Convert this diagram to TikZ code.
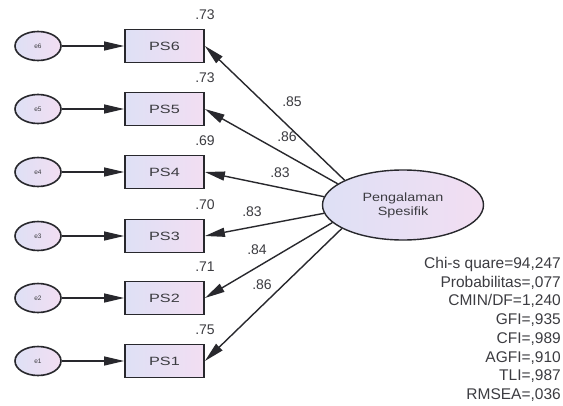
\documentclass[tikz,border=0pt]{standalone}
\usepackage{fontspec}
\setmainfont{Liberation Sans}
\usepackage{graphicx}
\usetikzlibrary{arrows.meta,shapes.geometric}
\definecolor{ink}{RGB}{40,40,45}
\definecolor{txt}{RGB}{60,60,65}
\definecolor{fillL}{RGB}{222,224,245}
\definecolor{fillR}{RGB}{242,222,242}
\newcommand\widetxt[1]{\scalebox{1.35}[1]{#1}}

\begin{document}
\begin{tikzpicture}[x=1pt,y=-1pt,
  obs/.style={draw=ink, line width=1.8pt, left color=fillL, right color=fillR,
    minimum width=79pt, minimum height=33pt, inner sep=0pt,
    font=\fontsize{12}{14}\selectfont, text=txt},
  err/.style={ellipse, draw=ink, line width=1.6pt, left color=fillL, right color=fillR,
    minimum width=46pt, minimum height=29pt, inner sep=0pt,
    font=\fontsize{6.5}{7}\selectfont, text=txt},
  lat/.style={ellipse, draw=ink, line width=1.4pt, left color=fillL, right color=fillR,
    minimum width=161pt, minimum height=70pt, inner sep=0pt, align=center,
    font=\fontsize{12}{14}\selectfont, text=txt},
  arr/.style={draw=ink, line width=1.4pt, -{Triangle[length=20pt,width=9pt]}},
  num/.style={font=\fontsize{14}{16}\selectfont, text=txt, inner sep=0pt},
  stat/.style={font=\fontsize{15.5}{18}\selectfont, text=txt, inner sep=0pt, anchor=base east}]

\useasboundingbox (0,0) rectangle (563,405);
\fill[white] (0,0) rectangle (563,405);

% latent factor
\node[lat] (lat) at (403,205) {\scalebox{1.2}[1]{Pengalaman}\\\scalebox{1.2}[1]{Spesifik}};

% indicators with their error terms, loadings and squared correlations
\foreach \i/\y/\ang/\rsq/\lam/\lx/\ly in {
    6/46/157/.73/.85/292/102,
    5/109/162/.73/.86/287/137,
    4/172/174/.69/.83/280/173,
    3/236/186/.70/.83/252/212,
    2/298/194/.71/.84/257/250,
    1/361/201/.75/.86/262/285}{
  \node[obs] (ps\i) at (164.5,\y) {\widetxt{PS\i}};
  \node[err] (e\i) at (38,\y) {e\i};
  \node[num] (r\i) at (205,\y-31) {\rsq};
  \draw[arr] (e\i) -- (ps\i);
  \draw[arr] (lat.\ang) -- (ps\i.east);
  \node[num] (l\i) at (\lx,\ly) {\lam};
}

% fit statistics
\foreach \k/\t in {0/{Chi-s quare=94,247},1/{Probabilitas=,077},2/{CMIN/DF=1,240},
    3/{GFI=,935},4/{CFI=,989},5/{AGFI=,910},6/{TLI=,987},7/{RMSEA=,036}}{
  \node[stat] (fit\k) at (561,268.5+18.7*\k) {\t};
}
\end{tikzpicture}
\end{document}
